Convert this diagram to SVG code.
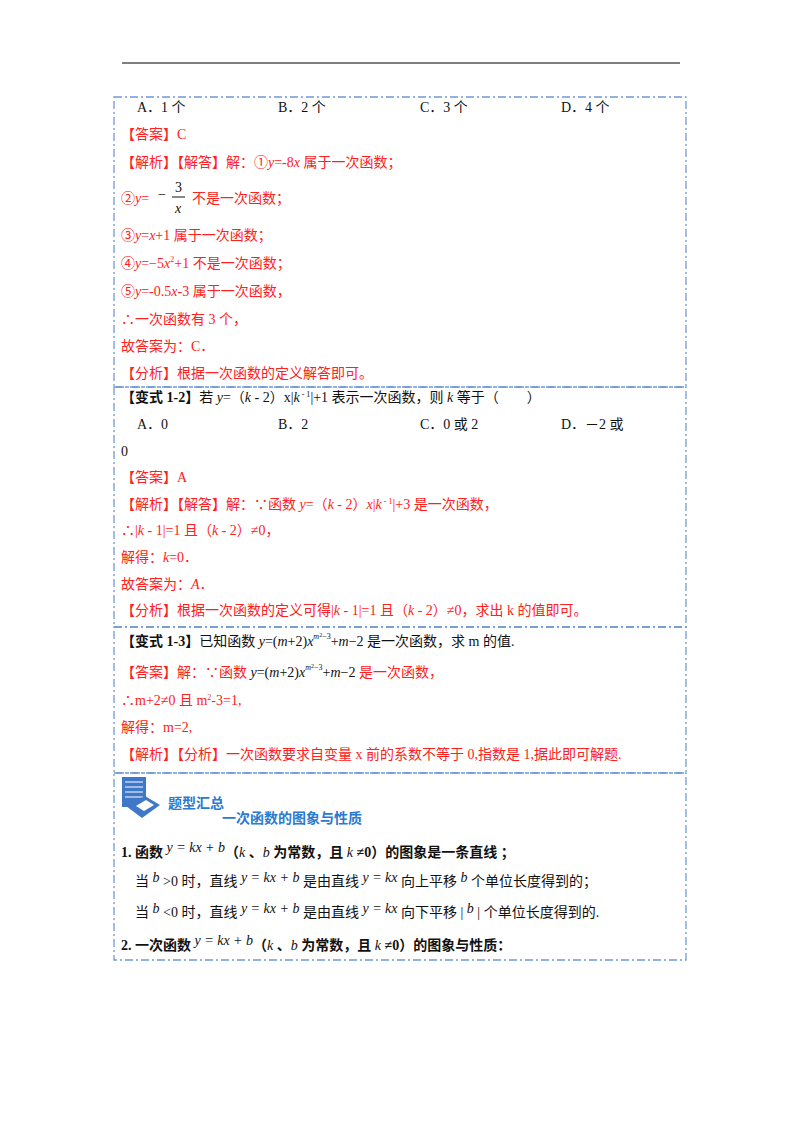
<svg xmlns="http://www.w3.org/2000/svg" width="800" height="1132" viewBox="0 0 800 1132">
<style>
text{font-family:"Liberation Serif","Noto Sans CJK SC",serif;font-size:14px;fill:#111}
.r{fill:#ff2020}
.b{font-weight:bold}
.i{font-style:italic}
.box{fill:none;stroke:#6f9ad6;stroke-width:1.3;stroke-dasharray:8 3 2 3}
.t{font-family:"Noto Sans CJK SC",sans-serif;font-weight:bold;fill:#2a7ad0}
</style>
<rect width="800" height="1132" fill="#fff"/>
<line x1="122" y1="63" x2="680" y2="63" stroke="#000" stroke-width="1"/>
<g id="boxes">
<rect class="box" x="114" y="97" width="572" height="290"/>
<rect class="box" x="114" y="387" width="572" height="240"/>
<rect class="box" x="114" y="627" width="572" height="146"/>
<rect class="box" x="114" y="773" width="572" height="187"/>
</g>
<g id="q1">
<text x="137" y="112">A．1 个</text><text x="278" y="112">B．2 个</text><text x="420" y="112">C．3 个</text><text x="561" y="112">D．4 个</text>
<text class="r" x="121" y="139">【答案】C</text>
<text class="r" x="121" y="167">【解析】【解答】解：①<tspan class="i">y</tspan>=-8<tspan class="i">x</tspan> 属于一次函数；</text>
<text class="r" x="121" y="203">②<tspan class="i">y</tspan>= </text>
<text x="158" y="199">−</text>
<text x="175" y="192">3</text><line x1="172" y1="197" x2="185" y2="197" stroke="#111"/><text class="i" x="175" y="213">x</text>
<text class="r" x="192" y="203">不是一次函数；</text>
<text class="r" x="121" y="240">③<tspan class="i">y</tspan>=<tspan class="i">x</tspan>+1 属于一次函数；</text>
<text class="r" x="121" y="268">④<tspan class="i">y</tspan>=−5<tspan class="i">x</tspan><tspan font-size="8" dy="-6">2</tspan><tspan dy="6">+1 不是一次函数；</tspan></text>
<text class="r" x="121" y="296">⑤<tspan class="i">y</tspan>=-0.5<tspan class="i">x</tspan>-3 属于一次函数，</text>
<text class="r" x="121" y="324">∴一次函数有 3 个，</text>
<text class="r" x="121" y="351">故答案为：C．</text>
<text class="r" x="121" y="378">【分析】根据一次函数的定义解答即可。</text>
</g>
<g id="q2">
<text x="121" y="402"><tspan class="b">【变式 1-2】</tspan>若 <tspan class="i">y</tspan>=（<tspan class="i">k</tspan> - 2）x|<tspan class="i">k</tspan><tspan font-size="8" dy="-5"> - 1</tspan><tspan dy="5">|+1 表示一次函数，则 </tspan><tspan class="i">k</tspan> 等于（　　）</text>
<text x="137" y="429">A．0</text><text x="278" y="429">B．2</text><text x="420" y="429">C．0 或 2</text><text x="561" y="429">D．－2 或</text>
<text x="121" y="456">0</text>
<text class="r" x="121" y="482">【答案】A</text>
<text class="r" x="121" y="509">【解析】【解答】解：∵函数 <tspan class="i">y</tspan>=（<tspan class="i">k</tspan> - 2）<tspan class="i">x</tspan>|<tspan class="i">k</tspan><tspan font-size="8" dy="-5"> - 1</tspan><tspan dy="5">|+3 是一次函数，</tspan></text>
<text class="r" x="121" y="535">∴|<tspan class="i">k</tspan> - 1|=1 且（<tspan class="i">k</tspan> - 2）≠0，</text>
<text class="r" x="121" y="562">解得：<tspan class="i">k</tspan>=0．</text>
<text class="r" x="121" y="589">故答案为：<tspan class="i">A</tspan>．</text>
<text class="r" x="121" y="615">【分析】根据一次函数的定义可得|<tspan class="i">k</tspan> - 1|=1 且（<tspan class="i">k</tspan> - 2）≠0，求出 k 的值即可。</text>
</g>
<g id="q3">
<text x="121" y="646"><tspan class="b">【变式 1-3】</tspan>已知函数 <tspan class="i">y</tspan>=(<tspan class="i">m</tspan>+2)<tspan class="i">x</tspan><tspan class="i" font-size="8" dy="-7">m</tspan><tspan font-size="6" dy="-2">2</tspan><tspan font-size="8" dy="2">−3</tspan><tspan dy="7">+</tspan><tspan class="i">m</tspan>−2 是一次函数，求 m 的值.</text>
<text class="r" x="121" y="677">【答案】解：∵函数 <tspan class="i" fill="#111">y</tspan><tspan fill="#111">=(</tspan><tspan class="i" fill="#111">m</tspan><tspan fill="#111">+2)</tspan><tspan class="i" fill="#111">x</tspan><tspan class="i" fill="#111" font-size="8" dy="-7">m</tspan><tspan fill="#111" font-size="6" dy="-2">2</tspan><tspan fill="#111" font-size="8" dy="2">−3</tspan><tspan fill="#111" dy="7">+</tspan><tspan class="i" fill="#111">m</tspan><tspan fill="#111">−2</tspan> 是一次函数，</text>
<text class="r" x="121" y="705">∴m+2≠0 且 m<tspan font-size="8" dy="-5">2</tspan><tspan dy="5">-3=1,</tspan></text>
<text class="r" x="121" y="732">解得：m=2,</text>
<text class="r" x="121" y="759">【解析】【分析】一次函数要求自变量 x 前的系数不等于 0,指数是 1,据此即可解题.</text>
</g>
<g id="q4">
<g id="icon">
<rect x="122" y="777" width="24" height="30" fill="#3f78c8"/>
<g stroke="#fff" stroke-width="1"><line x1="125" y1="782" x2="143" y2="782"/><line x1="125" y1="787" x2="143" y2="787"/><line x1="125" y1="792" x2="143" y2="792"/><line x1="125" y1="797" x2="143" y2="797"/></g>
<polygon points="126,806 145,796 160,805 142,818" fill="#3f78c8"/>
<polygon points="136,806 146,800 154,805 144,811" fill="#fff"/>
</g>
<text class="t" x="168" y="808" font-size="12">题型汇总</text>
<text class="t" x="222" y="823" font-size="14">一次函数的图象与性质</text>
<text class="b" x="121" y="857">1. 函数 <tspan class="i" font-weight="normal" dy="-5">y = kx + b</tspan><tspan dy="5">（</tspan><tspan class="i" font-weight="normal">k</tspan> 、<tspan class="i" font-weight="normal">b</tspan> 为常数，且 <tspan class="i" font-weight="normal">k</tspan> ≠0）的图象是一条直线 ；</text>
<text x="135" y="886">当 <tspan class="i" dy="-4">b</tspan><tspan dy="4"> &gt;0 时，直线 </tspan><tspan class="i" dy="-4">y = kx + b</tspan><tspan dy="4"> 是由直线 </tspan><tspan class="i" dy="-4">y = kx</tspan><tspan dy="4"> 向上平移 </tspan><tspan class="i" dy="-4">b</tspan><tspan dy="4"> 个单位长度得到的；</tspan></text>
<text x="135" y="917">当 <tspan class="i" dy="-4">b</tspan><tspan dy="4"> &lt;0 时，直线 </tspan><tspan class="i" dy="-4">y = kx + b</tspan><tspan dy="4"> 是由直线 </tspan><tspan class="i" dy="-4">y = kx</tspan><tspan dy="4"> 向下平移 | </tspan><tspan class="i" dy="-4">b</tspan><tspan dy="4"> | 个单位长度得到的.</tspan></text>
<text class="b" x="121" y="950">2. 一次函数 <tspan class="i" font-weight="normal" dy="-5">y = kx + b</tspan><tspan dy="5">（</tspan><tspan class="i" font-weight="normal">k</tspan> 、<tspan class="i" font-weight="normal">b</tspan> 为常数，且 <tspan class="i" font-weight="normal">k</tspan> ≠0）的图象与性质：</text>
</g>
</svg>
